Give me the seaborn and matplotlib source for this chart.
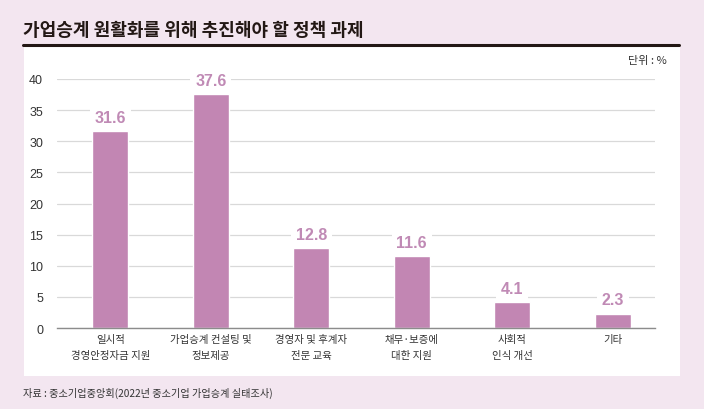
import matplotlib
matplotlib.use("Agg")
import matplotlib.pyplot as plt
import matplotlib.patches as patches
import seaborn as sns
import pandas as pd

# data
categories = ["일시적\n경영안정자금 지원", "가업승계 컨설팅 및\n정보제공", "경영자 및 후계자\n전문 교육",
              "채무·보증에\n대한 지원", "사회적\n인식 개선", "기타"]
values = [31.6, 37.6, 12.8, 11.6, 4.1, 2.3]
yticks = [0, 5, 10, 15, 20, 25, 30, 35, 40]

title = "가업승계 원활화를 위해 추진해야 할 정책 과제"
unit = "단위 : %"
source = "자료 : 중소기업중앙회(2022년 중소기업 가업승계 실태조사)"

bg = "#f3e6f0"
bar_color = "#c286b3"
label_color = "#c08ab5"

sns.set_style("white")
plt.rcParams['font.family'] = ['Noto Sans CJK KR', 'DejaVu Sans']

df = pd.DataFrame({"cat": categories, "val": values})

fig = plt.figure(figsize=(7.04, 4.10), dpi=100)
fig.patch.set_facecolor(bg)

# white panel behind the chart
W, H = 704, 410
panel = patches.Rectangle((24 / W, 1 - 377 / H), (680 - 24) / W, (377 - 47) / H,
                          transform=fig.transFigure, facecolor="white", edgecolor="none", zorder=-5)
fig.patches.append(panel)
fig.add_artist(plt.Line2D([23 / W, 679 / W], [1 - 46 / H, 1 - 46 / H], transform=fig.transFigure,
                          color="#231815", lw=2.2))

fig.text(23 / W, 1 - 30 / H, title, fontsize=13, fontweight="bold", color="#231815", va="center")
fig.text(667 / W, 1 - 61 / H, unit, fontsize=8, color="#333333", ha="right", va="center")
fig.text(23 / W, 1 - 393 / H, source, fontsize=7.3, color="#333333", va="center")

ax = fig.add_axes([57 / W, 1 - 329 / H, (655 - 57) / W, (329 - 80) / H], zorder=2)
ax.set_facecolor("none")
sns.barplot(data=df, x="cat", y="val", color=bar_color, width=0.36, saturation=1, ax=ax, zorder=2)

ax.set_ylim(0, 40)
ax.set_xlim(-0.53, 5.42)
ax.set_yticks(yticks)
ax.yaxis.grid(True, color="#d9d9d9", lw=0.9, zorder=0)
ax.set_axisbelow(True)
for s in ["top", "right", "left"]:
    ax.spines[s].set_visible(False)
ax.spines["bottom"].set_color("#8c8c8c")
ax.spines["bottom"].set_linewidth(1.0)
ax.tick_params(axis="y", length=0, labelsize=9, labelcolor="#333333", pad=10)
ax.tick_params(axis="x", length=0, labelsize=7.5, labelcolor="#333333", pad=4)
for lab in ax.get_yticklabels():
    lab.set_family("Liberation Sans")
for lab in ax.get_xticklabels():
    lab.set_linespacing(1.75)
ax.set_xlabel("")
ax.set_ylabel("")

for i, v in enumerate(values):
    ax.text(i, v + 1.0, f"{v}", ha="center", va="bottom", fontsize=11.5, fontweight="bold",
            family="Liberation Sans", color=label_color, zorder=3,
            bbox=dict(boxstyle="square,pad=0.3", facecolor="white", edgecolor="none"))

fig.savefig("out.png", dpi=100, facecolor=bg)
